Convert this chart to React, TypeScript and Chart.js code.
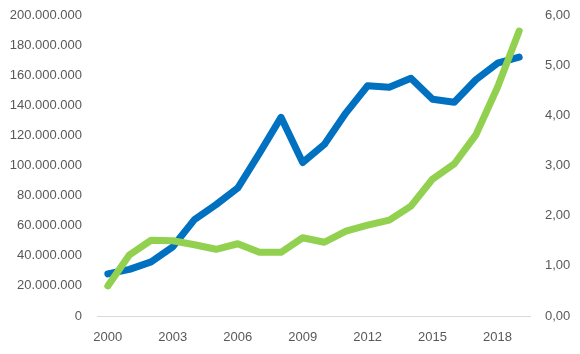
import React, { useEffect, useRef } from "react";
import { Chart, registerables } from "chart.js";

Chart.register(...registerables);

const years = [
  "2000", "2001", "2002", "2003", "2004", "2005", "2006", "2007", "2008", "2009",
  "2010", "2011", "2012", "2013", "2014", "2015", "2016", "2017", "2018", "2019",
];
const blueValues = [
  28000000, 31000000, 36000000, 46000000, 64000000, 74000000, 85000000, 108000000, 132000000, 102000000,
  114000000, 135000000, 153000000, 152000000, 158000000, 144000000, 142000000, 157000000, 168000000, 172000000,
];
const greenValues = [
  0.6, 1.22, 1.51, 1.5, 1.42, 1.33, 1.44, 1.27, 1.27, 1.56,
  1.47, 1.69, 1.81, 1.91, 2.19, 2.73, 3.03, 3.61, 4.56, 5.68,
];

function fmtThousands(v: number): string {
  const s = Math.round(v).toString();
  return s.replace(/\B(?=(\d{3})+(?!\d))/g, ".");
}

export default function App() {
  const ref = useRef<HTMLCanvasElement | null>(null);
  useEffect(() => {
    if (!ref.current) return;
    const font = { family: "'Liberation Sans', Arial, sans-serif", size: 13 };
    const color = "#595959";
    const chart = new Chart(ref.current, {
      type: "line",
      data: {
        labels: years,
        datasets: [
          {
            label: "A",
            data: blueValues,
            borderColor: "#0070C0",
            backgroundColor: "#0070C0",
            borderWidth: 7,
            pointRadius: 0,
            tension: 0,
            borderCapStyle: "round",
            borderJoinStyle: "round",
            yAxisID: "y",
            order: 2,
          },
          {
            label: "B",
            data: greenValues,
            borderColor: "#92D050",
            backgroundColor: "#92D050",
            borderWidth: 7,
            pointRadius: 0,
            tension: 0,
            borderCapStyle: "round",
            borderJoinStyle: "round",
            yAxisID: "y1",
            order: 1,
          },
        ],
      },
      options: {
        animation: false,
        responsive: false,
        maintainAspectRatio: false,
        layout: { padding: { top: 15, left: 0, right: 0, bottom: 0 } },
        plugins: { legend: { display: false }, tooltip: { enabled: false } },
        scales: {
          x: {
            offset: true,
            grid: { display: false, drawTicks: false },
            border: { display: true, color: "#d9d9d9", width: 1 },
            ticks: {
              autoSkip: false,
              maxRotation: 0,
              padding: 14,
              color,
              font,
              callback: (_v: any, i: number) => (i % 3 === 0 ? years[i] : ""),
            },
            afterFit: (s: any) => { s.height = 38; s.paddingLeft = 0; s.paddingRight = 0; },
          },
          y: {
            position: "left",
            min: 0,
            max: 200000000,
            grid: { display: false, drawTicks: false },
            border: { display: false },
            ticks: {
              stepSize: 20000000,
              padding: 15,
              color,
              font,
              callback: (v: any) => fmtThousands(Number(v)),
            },
            afterFit: (s: any) => { s.width = 97; s.paddingTop = 0; s.paddingBottom = 0; },
          },
          y1: {
            position: "right",
            min: 0,
            max: 6,
            grid: { display: false, drawTicks: false },
            border: { display: false },
            ticks: {
              stepSize: 1,
              padding: 15,
              color,
              font,
              callback: (v: any) => Number(v).toFixed(2).replace(".", ","),
            },
            afterFit: (s: any) => { s.width = 50; s.paddingTop = 0; s.paddingBottom = 0; },
          },
        },
      },
    } as any);
    return () => chart.destroy();
  }, []);
  return (
    <div style={{ position: "fixed", left: 0, top: 0, width: 580, height: 354, background: "#fff" }}>
      <canvas ref={ref} width={580} height={354} style={{ width: 580, height: 354 }} />
    </div>
  );
}
